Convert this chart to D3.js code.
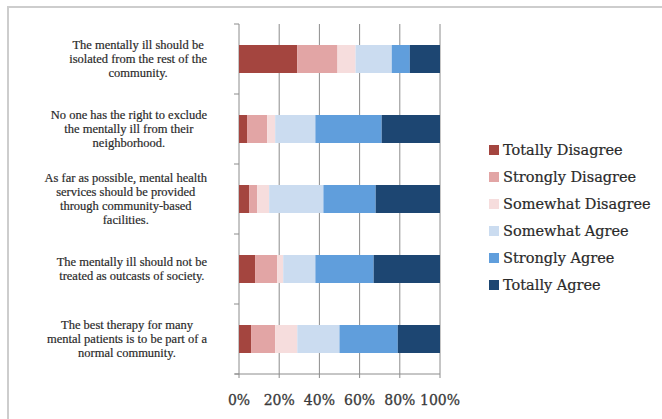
<!DOCTYPE html>
<html>
<head>
<meta charset="utf-8">
<script src="https://cdn.jsdelivr.net/npm/d3@7"></script>
<style>
  html, body { margin: 0; padding: 0; background: #fff; }
  svg { display: block; }
</style>
</head>
<body>
<svg id="chart" width="662" height="419"></svg>
<script>
// Survey statements (top to bottom)
const statements = [
  ["The mentally ill should be", "isolated from the rest of the", "community."],
  ["No one has the right to exclude", "the mentally ill from their", "neighborhood."],
  ["As far as possible, mental health", "services should be provided", "through community-based", "facilities."],
  ["The mentally ill should not be", "treated as outcasts of society."],
  ["The best therapy for many", "mental patients is to be part of a", "normal community."]
];

// Response categories, in stacking order
const responses = ["Totally Disagree", "Strongly Disagree", "Somewhat Disagree",
                   "Somewhat Agree", "Strongly Agree", "Totally Agree"];

// Percent of respondents per response, one array per response, one value per statement
const totallyDisagree  = [29, 4, 5, 8, 6];
const stronglyDisagree = [20, 10, 4, 11, 12];
const somewhatDisagree = [9, 4, 6, 3, 11];
const somewhatAgree    = [18, 20, 27, 16, 21];
const stronglyAgree    = [9, 33, 26, 29, 29];
const totallyAgree     = [15, 29, 32, 33, 21];

const xTicks = [0, 0.2, 0.4, 0.6, 0.8, 1.0];

const colors = ["#a4453f", "#e2a5a5", "#f6dddd", "#cbdcf0", "#609edc", "#1d4672"];

const seriesValues = [totallyDisagree, stronglyDisagree, somewhatDisagree,
                      somewhatAgree, stronglyAgree, totallyAgree];

// Build row objects for d3.stack
const rows = statements.map((s, i) => {
  const r = { idx: i };
  responses.forEach((k, j) => { r[k] = seriesValues[j][i]; });
  return r;
});

const stacked = d3.stack()
  .keys(responses)
  .offset(d3.stackOffsetExpand)(rows);

const svg = d3.select("#chart");

// Outer frame
svg.append("rect")
  .attr("x", 8).attr("y", 7)
  .attr("width", 680).attr("height", 430)
  .attr("fill", "#fff")
  .attr("stroke", "#cdcdcd")
  .attr("stroke-width", 2);

const plot = { left: 239, right: 440, top: 24, bottom: 374 };

const x = d3.scaleLinear().domain([0, 1]).range([plot.left, plot.right]);
const y = d3.scaleBand()
  .domain(d3.range(statements.length))
  .range([plot.top, plot.bottom])
  .paddingInner(0.6)
  .paddingOuter(0.3);

const gridColor = "#8c8c8c";

// Vertical gridlines
svg.append("g")
  .selectAll("line")
  .data(xTicks)
  .join("line")
  .attr("x1", d => x(d)).attr("x2", d => x(d))
  .attr("y1", plot.top).attr("y2", plot.bottom + 4)
  .attr("stroke", gridColor)
  .attr("stroke-width", 1);

// Bottom axis line
svg.append("line")
  .attr("x1", plot.left - 4).attr("x2", plot.right)
  .attr("y1", plot.bottom).attr("y2", plot.bottom)
  .attr("stroke", gridColor);

// Left axis ticks at category boundaries
const step = y.step();
const boundaries = d3.range(statements.length + 1).map(i => plot.top + i * step);
svg.append("g")
  .selectAll("line")
  .data(boundaries)
  .join("line")
  .attr("x1", plot.left - 5).attr("x2", plot.left)
  .attr("y1", d => d).attr("y2", d => d)
  .attr("stroke", gridColor);

// Stacked bars
svg.append("g")
  .selectAll("g")
  .data(stacked)
  .join("g")
  .attr("fill", (d, i) => colors[i])
  .selectAll("rect")
  .data(d => d)
  .join("rect")
  .attr("x", d => x(d[0]))
  .attr("width", d => x(d[1]) - x(d[0]))
  .attr("y", (d, i) => y(i))
  .attr("height", y.bandwidth());

// X tick labels
svg.append("g")
  .selectAll("text")
  .data(xTicks)
  .join("text")
  .attr("x", d => x(d))
  .attr("y", 405)
  .attr("text-anchor", "middle")
  .attr("font-family", "DejaVu Serif")
  .attr("font-size", 14)
  .attr("fill", "#3a3a3a")
  .attr("stroke", "#3a3a3a")
  .attr("stroke-width", 0.3)
  .text(d3.format(".0%"));

// Category labels: block right-aligned, lines centred within the block
const labelRight = 207;
const lineH = 14;
statements.forEach((lines, i) => {
  const g = svg.append("g");
  const cy = y(i) + y.bandwidth() / 2;
  const texts = lines.map((ln, k) => g.append("text")
    .attr("y", cy + (k - (lines.length - 1) / 2) * lineH)
    .attr("dy", "0.35em")
    .attr("text-anchor", "middle")
    .attr("font-family", "Liberation Serif")
    .attr("font-size", 12.5)
    .attr("fill", "#2a2a2a")
    .attr("stroke", "#2a2a2a")
    .attr("stroke-width", 0.2)
    .text(ln));
  const w = d3.max(texts, t => t.node().getComputedTextLength());
  texts.forEach(t => t.attr("x", labelRight - w / 2));
});

// Legend
const legend = svg.append("g");
responses.forEach((name, i) => {
  const cy = 150 + i * 27;
  legend.append("rect")
    .attr("x", 489).attr("y", cy - 5)
    .attr("width", 10).attr("height", 10)
    .attr("fill", colors[i]);
  legend.append("text")
    .attr("x", 503).attr("y", cy)
    .attr("dy", "0.35em")
    .attr("font-family", "DejaVu Serif")
    .attr("font-size", 14.5)
    .attr("fill", "#2a2a2a")
    .attr("stroke", "#2a2a2a")
    .attr("stroke-width", 0.2)
    .text(name);
});
</script>
</body>
</html>
